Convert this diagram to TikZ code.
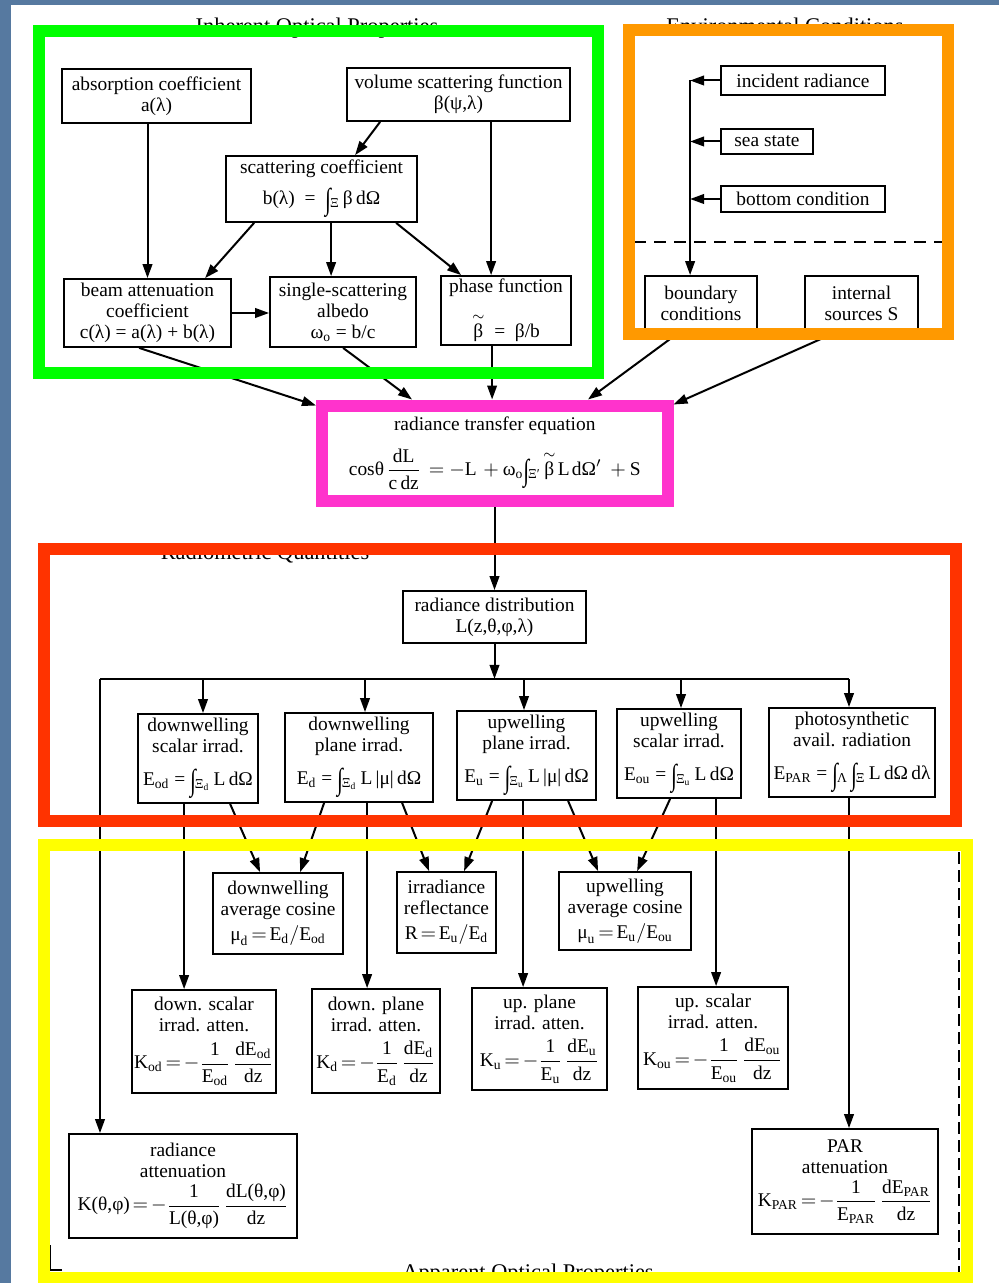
\documentclass[tikz,border=0pt]{standalone}
\usepackage{amsmath}
\usepackage{graphicx}
\usepackage{fontspec}
\setmainfont{Liberation Serif}
\usetikzlibrary{arrows.meta,calc}
\newcommand\rmt[1]{\text{#1}}
\newcommand\intg[1]{\raisebox{-2.5pt}{\scalebox{1.1}[1.55]{∫}}\textsubscript{\kern-0.5pt#1}}
\newcommand\btil{\overset{\sim}{\rmt{β}}}
\newcommand\bodyfont{\fontsize{9.7}{10.5}\selectfont\thickmuskip=2.5mu\medmuskip=1.5mu\thinmuskip=2mu}
\newcommand\headfont{\fontsize{11.2}{13}\selectfont}
\definecolor{slate}{HTML}{5679A0}
\definecolor{gfr}{HTML}{00FF00}
\definecolor{ofr}{HTML}{FF9900}
\definecolor{mfr}{HTML}{FF33CC}
\definecolor{rfr}{HTML}{FF3300}
\definecolor{yfr}{HTML}{FFFF00}
\begin{document}
\begin{tikzpicture}[x=0.5pt,y=-0.5pt,
  box/.style={draw, line width=0.9pt, align=center, inner sep=0pt, font=\bodyfont},
  sz/.style 2 args={minimum width=#1*0.5pt, minimum height=#2*0.5pt},
  arr/.style={line width=1pt, -{Triangle[length=7pt,width=4.8pt]}},
  conn/.style={line width=1pt},
  frame/.style={line width=6pt},
  head/.style={font=\headfont, anchor=base, inner sep=0pt}]
\useasboundingbox (0,0) rectangle (999,1283);
% slide background and paper
\fill[slate] (0,0) rectangle (999,1283);
\fill[white] (11,5) rectangle (999,1283);
% section headings (partly hidden by the coloured frames)
\node[head] (h1) at (317,34) {Inherent Optical Properties};
\node[head] (h2) at (785,34) {Environmental Conditions};
\node[head] (h3) at (265,559) {Radiometric Quantities};
\node[head] (h4) at (528,1279) {Apparent Optical Properties};
% inherent optical properties
\node[box, sz={189}{54}] (abs) at (156.5,96) {absorption coefficient\\a(λ)};
\node[box, sz={223}{53}] (vsf) at (458.5,94.5) {volume scattering function\\β(ψ,λ)};
\node[box, sz={191}{66}] (sca) at (321.5,189) {scattering coefficient\\[5pt]b(λ)\ \ =\ \ \intg{Ξ}\,β\,dΩ};
\node[box, sz={167}{68}] (beam) at (147.5,313) {beam attenuation\\coefficient\\c(λ) = a(λ) + b(λ)};
\node[box, sz={146}{70}] (alb) at (343,312) {single-scattering\\albedo\\ω\textsubscript{o} = b/c};
\node[box, sz={130}{69}] (pha) at (506,310.5) {phase function\\[7pt]$\btil$\ \ =\ \ β/b};
% environmental conditions
\node[box, sz={164}{29}] (inc) at (803,80.5) {incident radiance};
\node[box, sz={92}{25}] (sea) at (767,141.5) {sea state};
\node[box, sz={164}{26}] (bot) at (803,199) {bottom condition};
\node[box, sz={112}{54}] (bnd) at (701,303) {boundary\\conditions};
\node[box, sz={113}{54}] (src) at (861.5,303) {internal\\sources S};
% radiance transfer equation
\node[box, draw=mfr, line width=6pt, sz={345.5}{95.5}] (rte) at (494.75,453.25)
  {radiance transfer equation\\[6pt]
   $\rmt{cosθ}\,\dfrac{\rmt{dL}}{\rmt{c\,dz}}\ =\,-\rmt{L}\ +\,\rmt{ω}_{\rmt{o}}\rmt{\intg{Ξ′}}\,\btil\,\rmt{L}\,\rmt{dΩ}'\ \,+\,\rmt{S}$};
% radiometric quantities
\node[box, sz={183}{52}] (rd) at (494.5,617) {radiance distribution\\L(z,θ,φ,λ)};
\node[box, sz={120}{89}] (dws) at (198,758.5) {downwelling\\scalar irrad.\\[6pt]E\textsubscript{od} = \intg{Ξ\textsubscript{d}}\,L\,dΩ};
\node[box, sz={148}{89}] (dwp) at (359,757.5) {downwelling\\plane irrad.\\[6pt]E\textsubscript{d} = \intg{Ξ\textsubscript{d}}\,L\,|μ|\,dΩ};
\node[box, sz={139}{89}] (upp) at (526.5,755.5) {upwelling\\plane irrad.\\[6pt]E\textsubscript{u} = \intg{Ξ\textsubscript{u}}\,L\,|μ|\,dΩ};
\node[box, sz={124}{89}] (ups) at (679,753.5) {upwelling\\scalar irrad.\\[6pt]E\textsubscript{ou} = \intg{Ξ\textsubscript{u}}\,L\,dΩ};
\node[box, sz={166}{89}] (par) at (852,752.5) {photosynthetic\\avail. radiation\\[6pt]E\textsubscript{PAR} = \intg{Λ}\,\intg{Ξ}\,L\,dΩ\,dλ};
% apparent optical properties
\node[box, sz={130}{81}] (dac) at (278,913.5) {downwelling\\average cosine\\[2pt]$\rmt{μ}_{\rmt{d}} = \rmt{E}_{\rmt{d}}/\rmt{E}_{\rmt{od}}$};
\node[box, sz={99}{81}] (irr) at (446.5,912.5) {irradiance\\reflectance\\[2pt]$\rmt{R} = \rmt{E}_{\rmt{u}}/\rmt{E}_{\rmt{d}}$};
\node[box, sz={132}{78}] (uac) at (625,911) {upwelling\\average cosine\\[2pt]$\rmt{μ}_{\rmt{u}} = \rmt{E}_{\rmt{u}}/\rmt{E}_{\rmt{ou}}$};
\node[box, sz={144}{103}] (dsa) at (204,1041.5) {down. scalar\\irrad. atten.\\[4pt]$\rmt{K}_{\rmt{od}} = -\dfrac{\rmt{1}}{\rmt{E}_{\rmt{od}}}\,\dfrac{\rmt{dE}_{\rmt{od}}}{\rmt{dz}}$};
\node[box, sz={128}{104}] (dpa) at (376,1041) {down. plane\\irrad. atten.\\[4pt]$\rmt{K}_{\rmt{d}} = -\dfrac{\rmt{1}}{\rmt{E}_{\rmt{d}}}\,\dfrac{\rmt{dE}_{\rmt{d}}}{\rmt{dz}}$};
\node[box, sz={135}{102}] (upa) at (539.5,1039) {up. plane\\irrad. atten.\\[4pt]$\rmt{K}_{\rmt{u}} = -\dfrac{\rmt{1}}{\rmt{E}_{\rmt{u}}}\,\dfrac{\rmt{dE}_{\rmt{u}}}{\rmt{dz}}$};
\node[box, sz={150}{102}] (usa) at (713,1038) {up. scalar\\irrad. atten.\\[4pt]$\rmt{K}_{\rmt{ou}} = -\dfrac{\rmt{1}}{\rmt{E}_{\rmt{ou}}}\,\dfrac{\rmt{dE}_{\rmt{ou}}}{\rmt{dz}}$};
\node[box, sz={228}{104}] (rat) at (183,1186) {radiance\\attenuation\\[2pt]$\rmt{K(θ,φ)} = -\dfrac{\rmt{1}}{\rmt{L(θ,φ)}}\,\dfrac{\rmt{dL(θ,φ)}}{\rmt{dz}}$};
\node[box, sz={186}{105}] (pat) at (845,1181.5) {PAR\\attenuation\\[2pt]$\rmt{K}_{\rmt{PAR}} = -\dfrac{\rmt{1}}{\rmt{E}_{\rmt{PAR}}}\,\dfrac{\rmt{dE}_{\rmt{PAR}}}{\rmt{dz}}$};
% ---- connectors: inherent optical properties
\draw[arr] (beam.north |- abs.south) -- (beam.north);
\draw[arr] ($(vsf.south west)+(34,0)$) -- ($(sca.north west)+(130,0)$);
\coordinate (p1) at ($(pha.north west)+(51,0)$);
\draw[arr] (p1 |- vsf.south) -- (p1);
\draw[arr] ($(sca.south west)+(29,0)$) -- ($(beam.north west)+(142,0)$);
\draw[arr] ($(sca.south west)+(106,0)$) -- ($(alb.north west)+(62,0)$);
\draw[arr] ($(sca.south west)+(171,0)$) -- ($(pha.north west)+(21,0)$);
\draw[arr] (beam.east) -- (beam.east -| alb.west);
\draw[arr] ($(beam.south west)+(76,0)$) -- ($(rte.north west)+(0,6)$);
\draw[arr] ($(alb.south west)+(74,0)$) -- ($(rte.north west)+(96,0)$);
\coordinate (p2) at ($(pha.south west)+(52,0)$);
\draw[arr] (p2) -- (p2 |- rte.north);
% ---- environmental conditions
\coordinate (tk) at ($(inc.west)+(-30,0)$);
\draw[arr] (tk) -- (tk |- bnd.north);
\draw[arr] (inc.west) -- (tk);
\draw[arr] (sea.west) -- (sea.west -| tk);
\draw[arr] (bot.west) -- (bot.west -| tk);
\draw[line width=1pt, dash pattern=on 6pt off 4pt] (634,242) -- (942,242);
\draw[arr] ($(bnd.south west)+(37,0)$) -- ($(rte.north west)+(272,0)$);
\draw[arr] ($(src.south west)+(35,0)$) -- ($(rte.north east)+(0,5)$);
% ---- radiance transfer to radiometric quantities
\draw[arr] (rte.south -| rd.north) -- (rd.north);
\coordinate (busL) at ($(rd.south)+(-394.5,35)$);
\coordinate (busR) at ($(rd.south)+(354.5,35)$);
\draw[arr] (rd.south) -- (rd.south |- busL);
\draw[conn] (busL) -- (busR);
\draw[arr] (busR) -- (busR |- par.north);
\draw[arr] (busL) -- (busL |- rat.north);
\coordinate (d1) at ($(dws.north)+(5,0)$);
\coordinate (d2) at ($(dwp.north)+(6,0)$);
\coordinate (d3) at ($(upp.north)+(-2.5,0)$);
\coordinate (d4) at ($(ups.north)+(2,0)$);
\draw[arr] (d1 |- busL) -- (d1);
\draw[arr] (d2 |- busL) -- (d2);
\draw[arr] (d3 |- busL) -- (d3);
\draw[arr] (d4 |- busL) -- (d4);
% ---- radiometric quantities to apparent optical properties
\coordinate (v1) at ($(dws.south west)+(47,0)$);
\coordinate (v2) at ($(dwp.south west)+(83,0)$);
\coordinate (v3) at ($(upp.south west)+(67,0)$);
\coordinate (v4) at ($(ups.south west)+(100,0)$);
\draw[arr] (v1) -- (v1 |- dsa.north);
\draw[arr] (v2) -- (v2 |- dpa.north);
\draw[arr] (v3) -- (v3 |- upa.north);
\draw[arr] (v4) -- (v4 |- usa.north);
\draw[arr] (par.south -| busR) -- (pat.north -| busR);
\draw[arr] ($(dws.south west)+(93,0)$) -- ($(dac.north west)+(48,0)$);
\draw[arr] ($(dwp.south west)+(40,0)$) -- ($(dac.north west)+(88,0)$);
\draw[arr] ($(dwp.south west)+(118,0)$) -- ($(irr.north west)+(33,0)$);
\draw[arr] ($(upp.south west)+(36,0)$) -- ($(irr.north west)+(68,0)$);
\draw[arr] ($(upp.south west)+(112,0)$) -- ($(uac.north west)+(40,0)$);
\draw[arr] ($(ups.south west)+(54,0)$) -- ($(uac.north west)+(79,0)$);
% remains of the original dashed frame
\draw[line width=1pt, dash pattern=on 6pt off 3pt] (959,852) -- (959,1272);
\draw[line width=0.6pt] (50,1245) -- (50,1270) -- (62,1270);
% ---- coloured frames
\draw[frame, draw=gfr] (38.5,31.5) rectangle (597.5,372.5);
\draw[frame, draw=ofr] (628.5,30) rectangle (947.5,334);
\draw[frame, draw=rfr] (43.5,549) rectangle (956,821);
\draw[frame, draw=yfr] (43.5,845) rectangle (967,1277.5);
\end{tikzpicture}
\end{document}
